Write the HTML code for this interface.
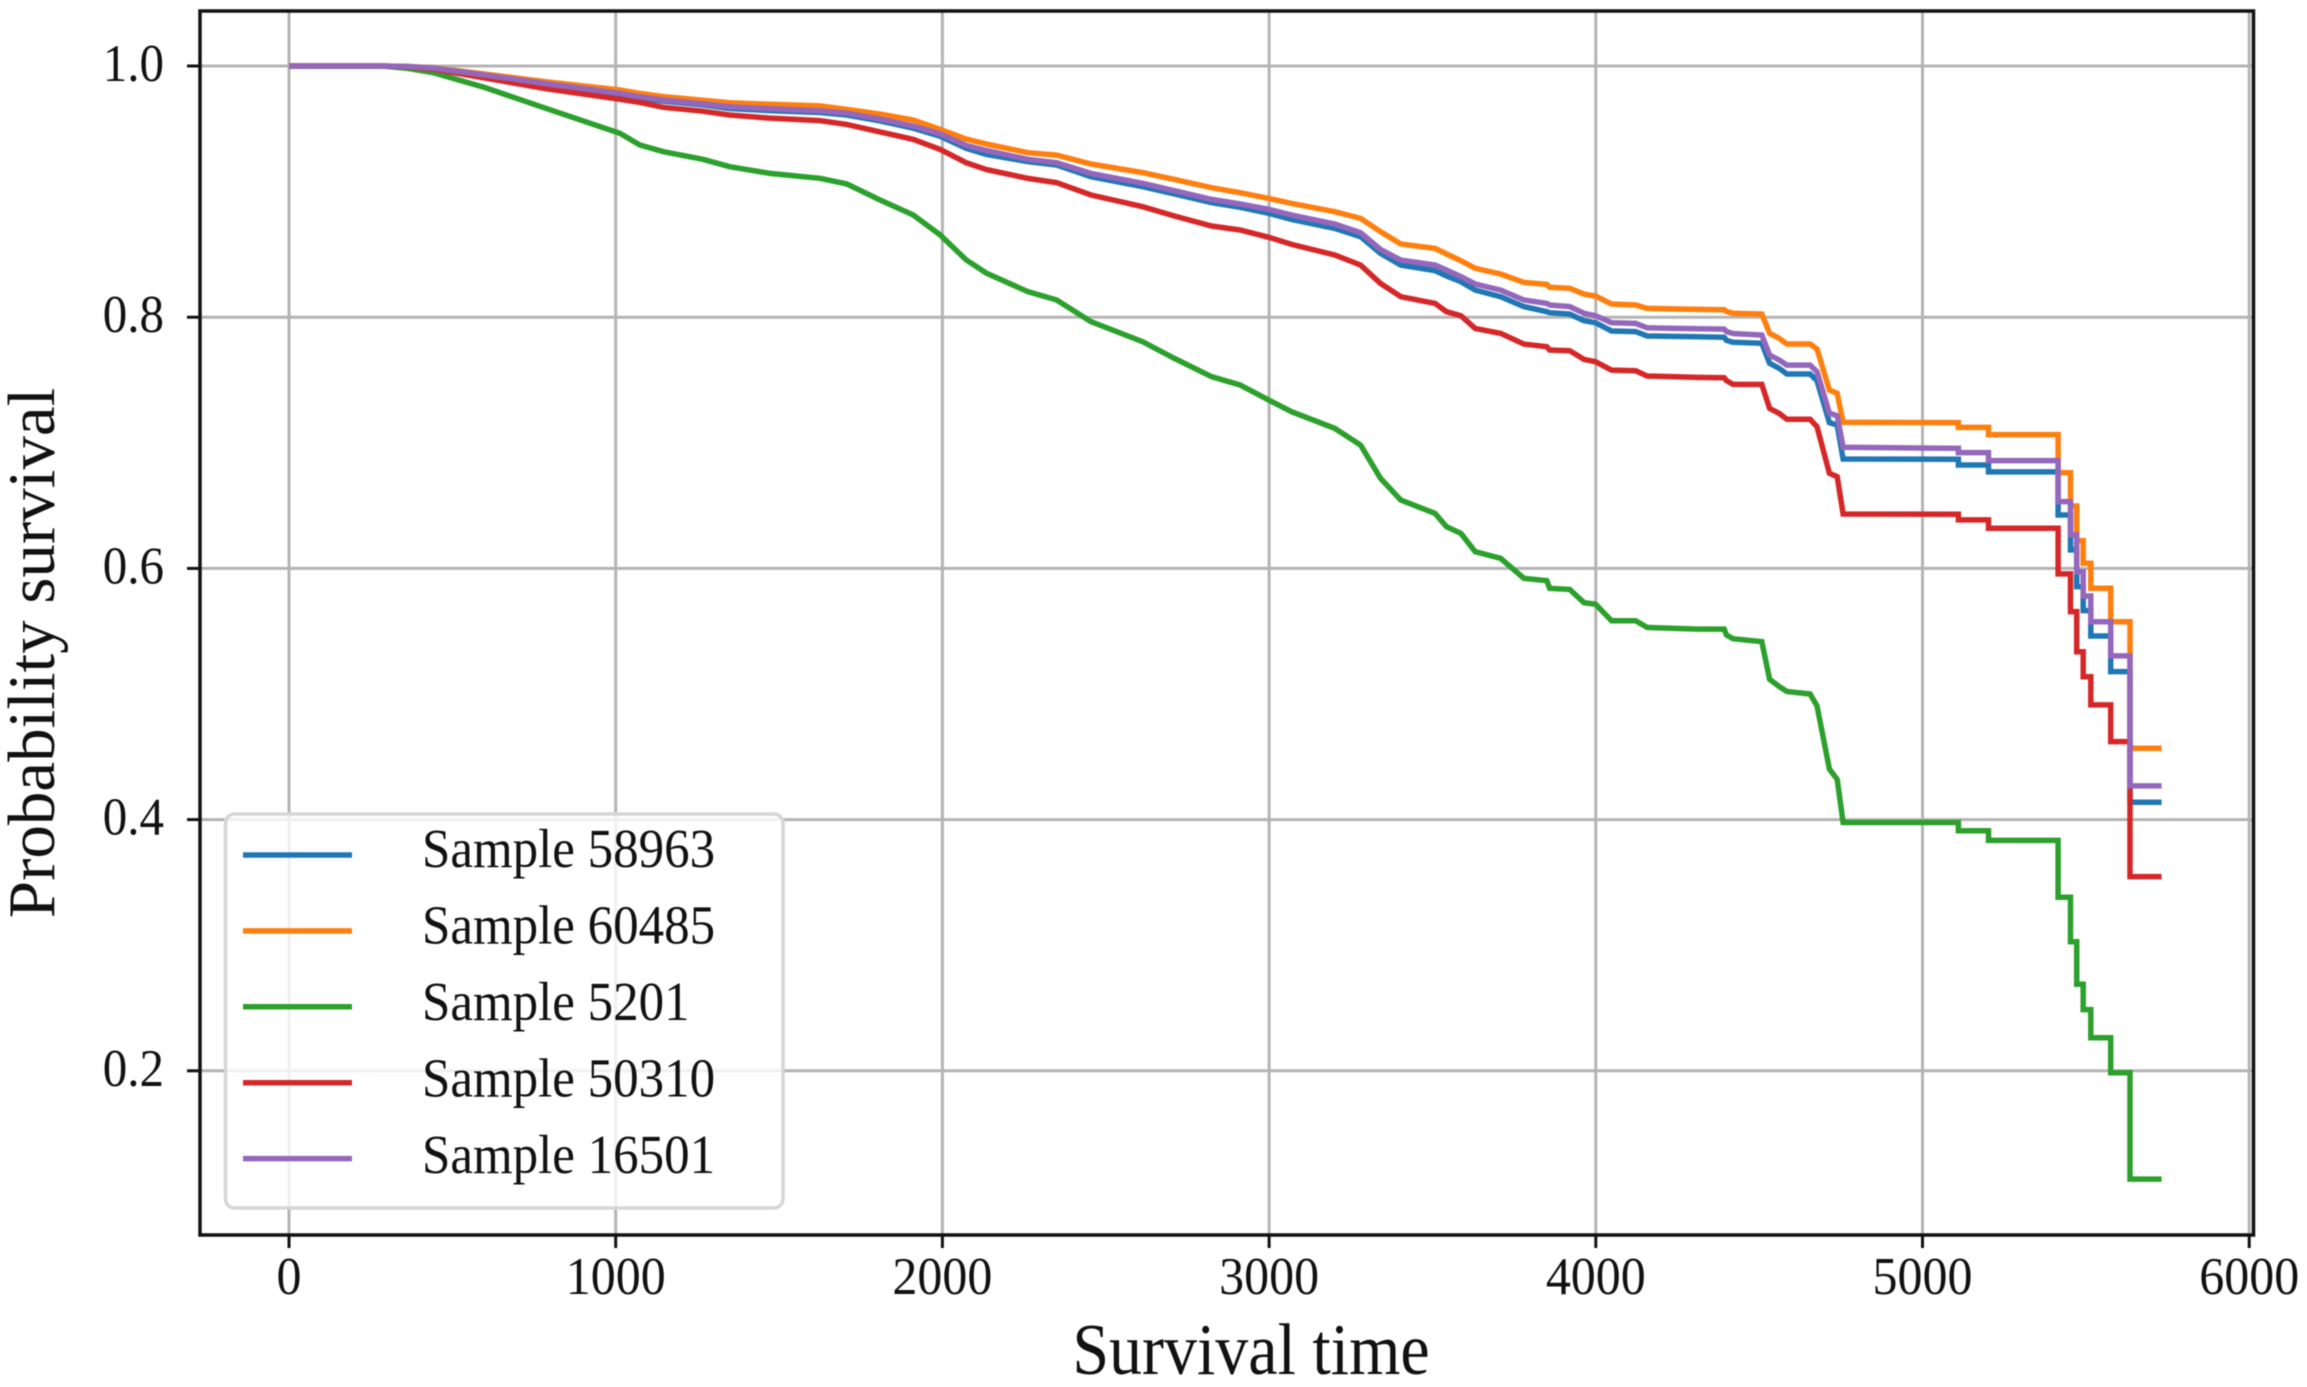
<!DOCTYPE html>
<html lang="en">
<head>
<meta charset="utf-8">
<title>Survival curves</title>
<style>
html,body{margin:0;padding:0;background:#fff;}
svg{display:block;font-family:"Liberation Serif",serif;filter:blur(0.6px);}
text{fill:#111;}
</style>
</head>
<body>
<svg id="chart" xmlns="http://www.w3.org/2000/svg" width="2307" height="1387" viewBox="0 0 2307 1387"></svg>
<script>
const times = [0,286,364,442,598,786,1013,1074,1146,1267,1349,1472,1625,1707,1809,1911,1993,2073,2135,2262,2350,2455,2613,2710,2824,2911,2999,3069,3201,3280,3341,3403,3508,3543,3587,3631,3709,3780,3850,3859,3920,3964,3999,4048,4122,4157,4312,4393,4400,4420,4508,4532,4561,4585,4656,4677,4715,4739,4757,5110,5110,5202,5202,5415,5415,5453,5453,5472,5472,5492,5492,5515,5515,5576,5576,5635,5635,5732];
const sample58963 = [1,1,.9995,.9982,.9925,.9855,.977,.9745,.972,.969,.9662,.9645,.963,.961,.9563,.9505,.944,.9345,.9295,.9238,.9212,.9119,.9039,.8981,.8912,.8875,.8827,.8779,.8707,.8641,.8508,.8415,.837,.8328,.8283,.8216,.8163,.8084,.8044,.8036,.8025,.7972,.7956,.789,.7885,.785,.7845,.784,.7815,.78,.7792,.7633,.7593,.7548,.7548,.7495,.716,.7142,.6871,.6869,.6823,.6823,.6768,.6768,.6425,.6425,.6147,.6147,.5855,.5855,.5664,.5664,.5462,.5462,.5178,.5178,.4138,.4138];
const sample60485 = [1,1,.9996,.9985,.9936,.9875,.9809,.9782,.9756,.9728,.9708,.9695,.9682,.9655,.9617,.957,.9496,.9418,.9378,.931,.9291,.922,.9151,.9097,.9031,.8991,.8946,.8906,.884,.8787,.8681,.8583,.8548,.8503,.845,.8389,.8344,.8277,.8261,.8238,.823,.8184,.8169,.8105,.8097,.807,.8062,.806,.8045,.8031,.8025,.7872,.7832,.7787,.7787,.7747,.742,.7394,.7163,.7161,.7123,.7123,.7065,.7065,.6762,.6762,.6497,.6497,.6221,.6221,.6041,.6041,.5842,.5842,.5576,.5576,.4568,.4568];
const sample5201 = [1,1,.9981,.9947,.983,.9663,.9464,.9371,.9318,.9257,.9198,.9145,.9106,.9061,.8933,.8814,.8655,.8456,.835,.8203,.8137,.7964,.7805,.7672,.7526,.746,.734,.7248,.7115,.6982,.6717,.6544,.6438,.6332,.6279,.6133,.608,.5921,.5902,.5841,.5833,.5727,.5716,.5583,.5583,.553,.5517,.5517,.547,.544,.5417,.5117,.506,.502,.5,.4906,.4403,.432,.3977,.3977,.3912,.3912,.3834,.3834,.3381,.3381,.3028,.3028,.2689,.2689,.2487,.2487,.2263,.2263,.1985,.1985,.1138,.1138];
const sample50310 = [1,1,.9993,.9975,.9905,.982,.9735,.971,.9671,.964,.961,.9585,.9565,.9535,.9475,.9416,.9336,.923,.9175,.9105,.9071,.8973,.888,.8806,.8726,.8694,.8636,.858,.8495,.8415,.8269,.8163,.811,.8044,.8012,.7911,.7871,.7786,.7765,.7739,.7733,.7664,.7646,.7579,.7574,.7532,.7521,.7518,.7495,.7465,.7465,.7274,.7235,.7187,.7187,.7128,.6757,.673,.6433,.6431,.6386,.6386,.6319,.6319,.5956,.5956,.5656,.5656,.5337,.5337,.5138,.5138,.4913,.4913,.4621,.4621,.3546,.3546];
const sample16501 = [1,1,.9996,.9983,.9928,.986,.9782,.9755,.9729,.97,.9676,.966,.9644,.9625,.9578,.9522,.9459,.9368,.9327,.9257,.923,.9145,.9066,.9007,.8938,.8901,.8859,.8813,.8742,.8673,.854,.8455,.8415,.8376,.8323,.8264,.8216,.8137,.811,.8097,.8084,.8031,.8012,.7956,.7951,.7916,.7908,.7905,.7885,.787,.7858,.7699,.7659,.7619,.7619,.7566,.7235,.7216,.6964,.6956,.6922,.6922,.6858,.6858,.6532,.6532,.6266,.6266,.5974,.5974,.578,.578,.5576,.5576,.5303,.5303,.4268,.4268];
const seriesNames = ["Sample 58963","Sample 60485","Sample 5201","Sample 50310","Sample 16501"];
const xTicks = [0,1000,2000,3000,4000,5000,6000];
const yTicks = ["0.2","0.4","0.6","0.8","1.0"];

const svg = document.getElementById('chart');
const NS = 'http://www.w3.org/2000/svg';
const xScale = t => 289 + t * 0.3267;
const yScale = v => 66 + (1 - v) * 1256;
const frame = {l:200, t:11, r:2253.5, b:1235};
const allSeries = [sample58963, sample60485, sample5201, sample50310, sample16501];
const colors = ['#1f77b4','#ff7f0e','#2ca02c','#d62728','#9467bd'];

function mk(tag, attrs, parent){
  const el = document.createElementNS(NS, tag);
  for (const k in attrs) el.setAttribute(k, attrs[k]);
  (parent || svg).appendChild(el);
  return el;
}
function stretchedText(str, x, y, size, anchor, sy, parent){
  const el = mk('text', {transform:`translate(${x} ${y}) scale(1 ${sy})`, 'font-size':size, 'text-anchor':anchor}, parent);
  el.textContent = str;
  return el;
}

const grid = mk('g', {stroke:'#b4b4b4','stroke-width':3,fill:'none'});


xTicks.forEach(t => {
  const x = xScale(t);
  const g = mk('line', {x1:x,x2:x,y1:frame.t,y2:frame.b}, grid);
  
  
  const tick = mk('line', {x1:x,x2:x,y1:frame.b,y2:frame.b+13,stroke:'#111','stroke-width':3});
  
  
  const lab = stretchedText(String(t), x, 1294, 50, 'middle', 1.05);
  
  
});
yTicks.forEach(s => {
  const y = yScale(parseFloat(s));
  const g = mk('line', {x1:frame.l,x2:frame.r,y1:y,y2:y}, grid);
  
  
  const tick = mk('line', {x1:frame.l-13,x2:frame.l,y1:y,y2:y,stroke:'#111','stroke-width':3});
  
  
  const lab = stretchedText(s, 164, y+15, 49, 'end', 1.08);
  
  
});

allSeries.forEach((vals, i) => {
  const d = vals.map((v, j) => (j ? 'L' : 'M') + xScale(times[j]).toFixed(1) + ' ' + yScale(v).toFixed(1)).join('');
  const p = mk('path', {d:d, fill:'none', stroke:colors[i], 'stroke-width':5.5, 'stroke-linejoin':'miter'});
  
  
});

const border = mk('rect', {x:frame.l,y:frame.t,width:frame.r-frame.l,height:frame.b-frame.t,fill:'none',stroke:'#111','stroke-width':3.5});



const legend = mk('g', {});


const legendBox = mk('rect', {x:225.5,y:814,width:557.5,height:394,rx:9,ry:9,fill:'#fff','fill-opacity':0.8,stroke:'#d6d6d6','stroke-width':3.5}, legend);


seriesNames.forEach((name, i) => {
  const y = 855 + i * 75.9;
  const h = mk('line', {x1:243,x2:352,y1:y,y2:y,stroke:colors[i],'stroke-width':5.5}, legend);
  
  
  const t = stretchedText(name, 422, 867 + i * 76.5, 51, 'start', 1.08, legend);
  
  
});

const xTitle = stretchedText('Survival time', 1251, 1374, 66, 'middle', 1.1);



const yTitle = mk('text', {transform:'translate(54 653) rotate(-90)', 'font-size':67, 'text-anchor':'middle'});
yTitle.textContent = 'Probability survival';


</script>
</body>
</html>
